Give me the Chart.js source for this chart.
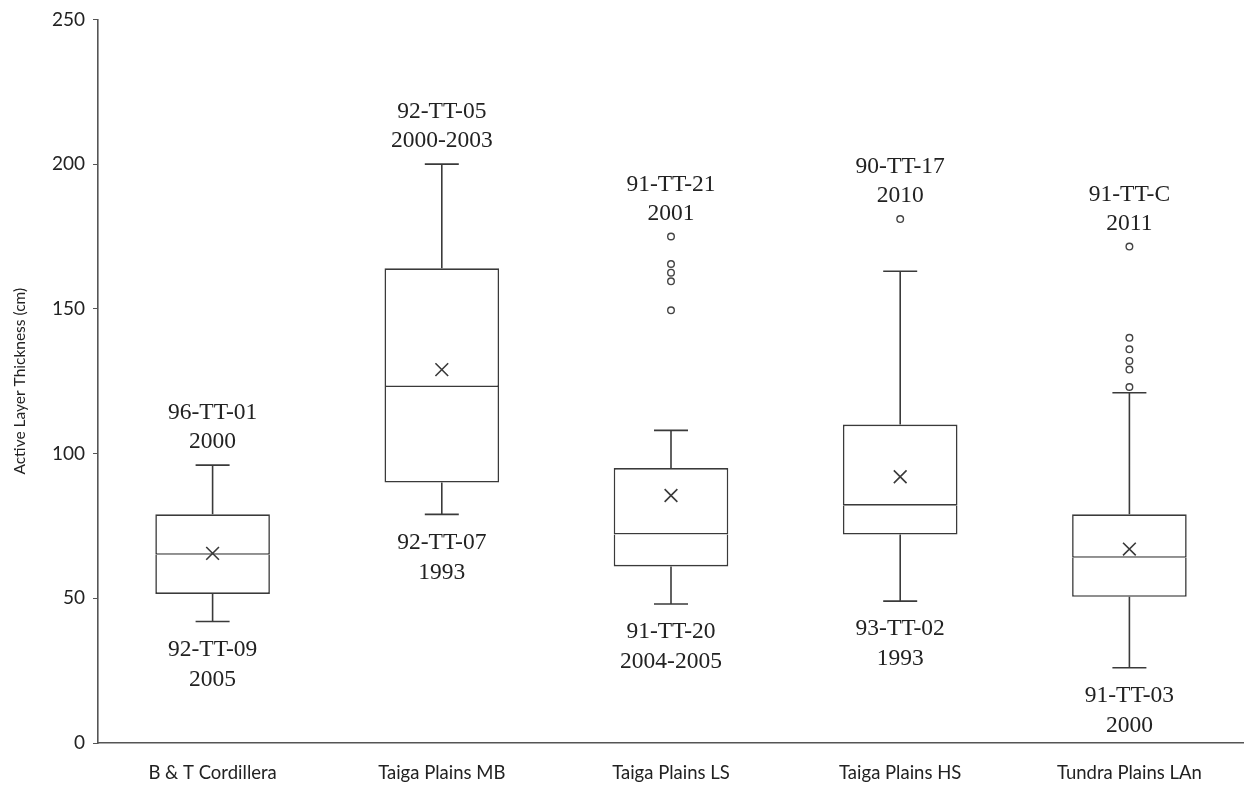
<!DOCTYPE html>
<html>
<head>
<meta charset="utf-8">
<script src="https://cdn.jsdelivr.net/npm/chart.js@4/dist/chart.umd.min.js"></script>
<style>
  html, body { margin: 0; padding: 0; background: #fff; }
  #wrap { width: 1244px; height: 786px; }
</style>
</head>
<body>
<div id="wrap"><canvas id="myChart" width="1244" height="786"></canvas></div>
<script>
// categories and five-number summaries (cm)
const regions = ['B & T Cordillera', 'Taiga Plains MB', 'Taiga Plains LS', 'Taiga Plains HS', 'Tundra Plains LAn'];
const whiskerLow = [42, 79, 48, 49, 26];
const q1 = [51.5, 90, 61, 72, 50.5];
const median = [65, 123, 72, 82, 64];
const q3 = [79, 164, 95, 110, 79];
const whiskerHigh = [96, 200, 108, 163, 121];
const means = [65.5, 129, 85.5, 92, 67];
const outliers = [
  [],
  [],
  [175, 165.5, 162.5, 159.5, 149.5],
  [181],
  [171.5, 140, 136, 132, 129, 123]
];
// site / year labels for the max and min values
const topSite = ['96-TT-01', '92-TT-05', '91-TT-21', '90-TT-17', '91-TT-C'];
const topYear = ['2000', '2000-2003', '2001', '2010', '2011'];
const lowSite = ['92-TT-09', '92-TT-07', '91-TT-20', '93-TT-02', '91-TT-03'];
const lowYear = ['2005', '1993', '2004-2005', '1993', '2000'];

const ink = '#3a3a3a';

// whisker stems as separate segments, broken by nulls
let stems = [];
regions.forEach((r, i) => {
  stems.push({x: r, y: whiskerHigh[i]}, {x: r, y: q3[i]}, {x: r, y: null});
  stems.push({x: r, y: q1[i]}, {x: r, y: whiskerLow[i]}, {x: r, y: null});
});
let caps = [];
regions.forEach((r, i) => {
  caps.push({x: r, y: whiskerHigh[i]}, {x: r, y: whiskerLow[i]});
});
let outlierPts = [];
regions.forEach((r, i) => {
  outliers[i].forEach(v => outlierPts.push({x: r, y: v}));
});

const siteLabels = {
  id: 'siteLabels',
  afterDatasetsDraw(chart) {
    const {ctx, scales: {x, y}} = chart;
    ctx.save();
    ctx.font = '23.5px "Liberation Serif", "Times New Roman", serif';
    ctx.fillStyle = '#222';
    ctx.textAlign = 'center';
    ctx.textBaseline = 'middle';
    regions.forEach((r, i) => {
      const px = x.getPixelForValue(i);
      const topVal = Math.max(whiskerHigh[i], ...outliers[i]);
      const yt = y.getPixelForValue(topVal) - 23;
      ctx.fillText(topYear[i], px, yt);
      ctx.fillText(topSite[i], px, yt - 29);
      const yb = y.getPixelForValue(whiskerLow[i]) + 28;
      ctx.fillText(lowSite[i], px, yb);
      ctx.fillText(lowYear[i], px, yb + 30);
    });
    ctx.restore();
  }
};

new Chart(document.querySelector('#myChart'), {
  type: 'bar',
  data: {
    labels: regions,
    datasets: [
      {
        label: 'lower box',
        data: regions.map((r, i) => [q1[i], median[i]]),
        backgroundColor: '#fff',
        borderColor: ink,
        borderWidth: 1.6,
        borderSkipped: 'top',
        grouped: false,
        barPercentage: 0.5,
        categoryPercentage: 1
      },
      {
        label: 'upper box',
        data: regions.map((r, i) => [median[i], q3[i]]),
        backgroundColor: '#fff',
        borderColor: ink,
        borderWidth: 1.6,
        borderSkipped: false,
        grouped: false,
        barPercentage: 0.5,
        categoryPercentage: 1
      },
      {
        type: 'line',
        label: 'whiskers',
        data: stems,
        borderColor: ink,
        borderWidth: 1.6,
        pointRadius: 0,
        spanGaps: false,
        order: -1
      },
      {
        type: 'line',
        label: 'caps',
        data: caps,
        showLine: false,
        pointStyle: 'line',
        pointRadius: 17,
        borderColor: ink,
        pointBorderWidth: 1.6,
        order: -1
      },
      {
        type: 'line',
        label: 'mean',
        data: regions.map((r, i) => ({x: r, y: means[i]})),
        showLine: false,
        pointStyle: 'crossRot',
        pointRadius: 9,
        borderColor: ink,
        pointBorderWidth: 1.6,
        order: -2
      },
      {
        type: 'line',
        label: 'outliers',
        data: outlierPts,
        showLine: false,
        pointStyle: 'circle',
        pointRadius: 3.3,
        backgroundColor: '#fff',
        borderColor: '#444',
        pointBorderWidth: 1.4,
        order: -2
      }
    ]
  },
  options: {
    responsive: false,
    animation: false,
    events: [],
    layout: { autoPadding: false, padding: { top: 17, right: 0, left: 0, bottom: 0 } },
    plugins: {
      legend: { display: false },
      tooltip: { enabled: false }
    },
    scales: {
      x: {
        grid: { display: false, drawTicks: false },
        border: { display: true, color: '#555', width: 1.6 },
        ticks: {
          color: '#222',
          padding: 19,
          font: { family: 'Lato', size: 18.5 }
        },
        afterFit(scale) { scale.height = 43; }
      },
      y: {
        min: 0,
        max: 250,
        ticks: {
          stepSize: 50,
          color: '#222',
          padding: 8,
          font: { family: 'Lato', size: 19 }
        },
        grid: { display: true, drawOnChartArea: false, drawTicks: true, tickLength: 5, color: '#555' },
        border: { display: true, color: '#555', width: 1.6 },
        title: {
          display: true,
          text: 'Active Layer Thickness (cm)',
          color: '#222',
          font: { family: 'Lato', size: 15.5 },
          padding: { top: 11, bottom: 0 }
        },
        afterFit(scale) { scale.width = 98; }
      }
    }
  },
  plugins: [siteLabels]
});
</script>
</body>
</html>
